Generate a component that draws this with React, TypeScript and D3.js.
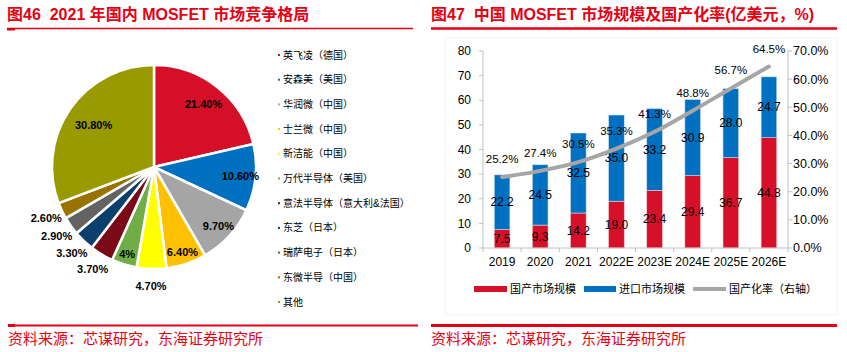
import * as d3 from "d3";
import React from "react";

// left: 2021 MOSFET market share
const vendors = [
  "英飞凌（德国）",
  "安森美（美国）",
  "华润微（中国）",
  "士兰微（中国）",
  "新洁能（中国）",
  "万代半导体（美国）",
  "意法半导体（意大利&法国）",
  "东芝（日本）",
  "瑞萨电子（日本）",
  "东微半导（中国）",
  "其他",
];
const shares = [21.4, 10.6, 9.7, 6.4, 4.7, 4, 3.7, 3.3, 2.9, 2.6, 30.8];
const shareLabels = ["21.40%", "10.60%", "9.70%", "6.40%", "4.70%", "4%", "3.70%", "3.30%", "2.90%", "2.60%", "30.80%"];
const pieColors = ["#D50F27", "#0070C0", "#A5A5A5", "#FFC000", "#FFFF00", "#70AD47", "#7B0A18", "#0B3F6E", "#636363", "#9A7200", "#999900"];

// right: market size and localization rate
const years = ["2019", "2020", "2021", "2022E", "2023E", "2024E", "2025E", "2026E"];
const domestic = [7.5, 9.3, 14.2, 19.0, 23.4, 29.4, 36.7, 44.8];
const imported = [22.2, 24.5, 32.5, 35.0, 33.2, 30.9, 28.0, 24.7];
const rate = [25.2, 27.4, 30.5, 35.3, 41.3, 48.8, 56.7, 64.5];
const leftTicks = [0, 10, 20, 30, 40, 50, 60, 70, 80];
const rightTicks = [0, 10, 20, 30, 40, 50, 60, 70];

const RED = "#E60012";
const FONT = "'Liberation Sans', Arial, 'Noto Sans CJK SC', sans-serif";

export default function App() {
  // pie
  const cx = 154;
  const cy = 167;
  const R = 102;
  const pie = d3
    .pie<number>()
    .sort(null)
    .value((d) => d);
  const arcs = pie(shares);
  const arc = d3.arc<any>().innerRadius(0).outerRadius(R);
  const labelPos = (a: any, i: number) => {
    const v = shares[i];
    const mid = (a.startAngle + a.endAngle) / 2;
    const r = v >= 4 && i !== 4 ? R * (0.92 - v * 0.0065) : R * 1.17;
    return [cx + r * Math.sin(mid), cy - r * Math.cos(mid)];
  };

  // bars
  const x = d3.scaleBand().domain(years).range([483, 788]).padding(0);
  const bw = x.bandwidth() * 0.41;
  const yL = d3.scaleLinear().domain([0, 80]).range([248, 51]);
  const yR = d3.scaleLinear().domain([0, 70]).range([248, 51]);
  const cxBar = (y: string) => (x(y) as number) + x.bandwidth() / 2;
  const line = d3
    .line<number>()
    .curve(d3.curveCatmullRom.alpha(0.5))
    .x((_, i) => cxBar(years[i]))
    .y((d) => yR(d));
  const axisColor = "#BFBFBF";

  return (
    <svg
      width={847}
      height={352}
      style={{ position: "absolute", left: 0, top: 0, background: "#fff" }}
      fontFamily={FONT}
    >
      {/* titles */}
      <text x={7} y={20} fill={RED} fontSize={16} fontWeight="bold" style={{ whiteSpace: "pre" }}>
        {"图46  2021 年国内 MOSFET 市场竞争格局"}
      </text>
      <line x1={7} x2={413} y1={28.5} y2={28.5} stroke={RED} strokeWidth={1.5} />
      <rect x={7} y={28} width={8} height={2.5} fill={RED} />
      <text x={431} y={20} fill={RED} fontSize={16} fontWeight="bold" style={{ whiteSpace: "pre" }}>
        {"图47  中国 MOSFET 市场规模及国产化率(亿美元，%)"}
      </text>
      <line x1={431} x2={837} y1={28.5} y2={28.5} stroke={RED} strokeWidth={2.5} />

      {/* pie */}
      <g transform={`translate(${cx},${cy})`}>
        {arcs.map((a, i) => (
          <path key={i} d={arc(a) as string} fill={pieColors[i]} stroke="#fff" strokeWidth={2.5} />
        ))}
      </g>
      {arcs.map((a, i) => {
        const [lx, ly] = labelPos(a, i);
        return (
          <text key={i} x={lx} y={ly} dy="0.35em" textAnchor="middle" fontSize={11} fontWeight="bold" fill="#000">
            {shareLabels[i]}
          </text>
        );
      })}
      {vendors.map((v, i) => (
        <g key={v} transform={`translate(278,${55 + i * 24.7})`}>
          <rect x={0} y={-1} width={2} height={2} fill={pieColors[i]} />
          <text x={5} y={0} dy="0.35em" fontSize={10} fill="#000">
            {v}
          </text>
        </g>
      ))}

      {/* right chart */}
      <rect x={445} y={38} width={392} height={277} fill="none" stroke="#F3F3F3" />
      {years.map((y, i) => (
        <g key={y}>
          <rect
            x={cxBar(y) - bw / 2}
            y={yL(domestic[i])}
            width={bw}
            height={yL(0) - yL(domestic[i])}
            fill="#D7102A"
            stroke="#F2C4CA"
            strokeWidth={0.6}
          />
          <rect
            x={cxBar(y) - bw / 2}
            y={yL(domestic[i] + imported[i])}
            width={bw}
            height={yL(0) - yL(imported[i])}
            fill="#0070C0"
            stroke="#C9DCF0"
            strokeWidth={0.6}
          />
          <text x={cxBar(y)} y={yL(domestic[i] / 2)} dy="0.35em" textAnchor="middle" fontSize={12} fill="#000">
            {domestic[i].toFixed(1)}
          </text>
          <text
            x={cxBar(y)}
            y={yL(domestic[i] + imported[i] / 2)}
            dy="0.35em"
            textAnchor="middle"
            fontSize={12}
            fill="#000"
          >
            {imported[i].toFixed(1)}
          </text>
          <text x={cxBar(y)} y={262} dy="0.35em" textAnchor="middle" fontSize={12} fill="#000">
            {y}
          </text>
        </g>
      ))}
      {/* axes */}
      <line x1={483} x2={483} y1={51} y2={248} stroke={axisColor} />
      <line x1={788} x2={788} y1={51} y2={248} stroke={axisColor} />
      <line x1={483} x2={788} y1={248} y2={248} stroke={axisColor} />
      {leftTicks.map((t) => (
        <g key={t}>
          <line x1={479} x2={483} y1={yL(t)} y2={yL(t)} stroke={axisColor} />
          <text x={471} y={yL(t)} dy="0.35em" textAnchor="end" fontSize={12} fill="#000">
            {t}
          </text>
        </g>
      ))}
      {rightTicks.map((t) => (
        <g key={t}>
          <line x1={788} x2={792} y1={yR(t)} y2={yR(t)} stroke={axisColor} />
          <text x={793} y={yR(t)} dy="0.35em" fontSize={12.5} fill="#000">
            {t.toFixed(1)}%
          </text>
        </g>
      ))}
      {years.concat([""]).map((y, i) => {
        const xx = 483 + i * x.step();
        return <line key={i} x1={xx} x2={xx} y1={248} y2={252} stroke={axisColor} />;
      })}
      <path d={line(rate) as string} fill="none" stroke="#A6A6A6" strokeWidth={4} strokeLinecap="round" />
      {rate.map((r, i) => (
        <text key={i} x={cxBar(years[i])} y={yR(r) - 18} dy="0.35em" textAnchor="middle" fontSize={11.5} fill="#000">
          {r.toFixed(1)}%
        </text>
      ))}
      {/* legend */}
      <rect x={474} y={286} width={33} height={6} fill="#D7102A" />
      <text x={510} y={289} dy="0.35em" fontSize={11} fill="#000">
        国产市场规模
      </text>
      <rect x={584} y={286} width={32} height={6} fill="#0070C0" />
      <text x={619} y={289} dy="0.35em" fontSize={11} fill="#000">
        进口市场规模
      </text>
      <line x1={693} x2={726} y1={289} y2={289} stroke="#A6A6A6" strokeWidth={4} />
      <text x={729} y={289} dy="0.35em" fontSize={11} fill="#000">
        国产化率（右轴）
      </text>

      {/* footers */}
      <line x1={8} x2={418} y1={325.5} y2={325.5} stroke={RED} strokeWidth={2} />
      <rect x={8} y={324} width={7} height={3} fill={RED} />
      <line x1={431} x2={837} y1={325.5} y2={325.5} stroke={RED} strokeWidth={3} />
      <text x={8} y={344} fill={RED} fontSize={15}>
        资料来源：芯谋研究，东海证券研究所
      </text>
      <text x={431} y={344} fill={RED} fontSize={15}>
        资料来源：芯谋研究，东海证券研究所
      </text>
    </svg>
  );
}
